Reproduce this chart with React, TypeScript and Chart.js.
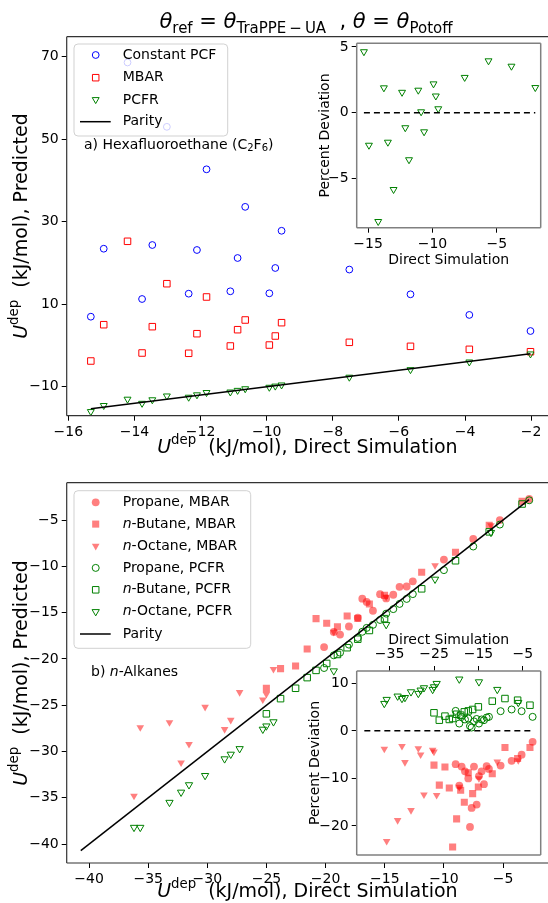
import React, { useEffect, useRef } from 'react';
import { Chart, registerables } from 'chart.js';
Chart.register(...registerables);

const W = 548;
const H = 903;
const FF = '"DejaVu Sans", "Noto Sans", sans-serif';

// ---------------- (a) Hexafluoroethane ----------------
const hfeDirect = [-15.32, -14.93, -14.21, -13.77, -13.46, -13.02, -12.36, -12.11, -11.82, -11.1, -10.88, -10.65, -9.92, -9.74, -9.55, -7.5, -5.65, -3.87, -2.02];
const hfeCPCF = [6.97, 23.45, 68.6, 11.26, 24.35, 53.0, 12.55, 23.14, 42.7, 13.13, 21.2, 33.6, 12.64, 18.78, 27.8, 18.4, 12.4, 7.4, 3.5];
const hfeMBAR = [-3.77, 5.03, 25.25, -1.83, 4.55, 14.97, -1.9, 2.85, 11.75, -0.13, 3.82, 6.17, 0.1, 2.29, 5.52, 0.76, -0.21, -0.94, -1.52];
const hfePCFR = [-16.03, -14.56, -13.03, -14.03, -13.17, -12.25, -12.55, -11.97, -11.41, -11.29, -10.89, -10.5, -10.14, -9.86, -9.58, -7.7, -5.87, -4.01, -2.06];
const hfePCFRDev = [4.64, -2.46, -8.25, 1.9, -2.23, -5.82, 1.56, -1.13, -3.56, 1.72, 0.08, -1.44, 2.2, 1.28, 0.31, 2.69, 3.95, 3.54, 1.92];
const hfeParity = [-15.32, -2.02];
const hfeXTicks = [-16, -14, -12, -10, -8, -6, -4, -2];
const hfeYTicks = [-10, 10, 30, 50, 70];
const hfeInsetXTicks = [-15, -10, -5];
const hfeInsetYTicks = [-5, 0, 5];

// ---------------- (b) n-Alkanes ----------------
const propDirect = [-2.79, -5.27, -7.52, -10.0, -12.63, -13.15, -13.75, -14.28, -14.88, -15.4, -16.0, -16.53, -16.9, -17.28, -18.03, -18.78, -19.31, -20.13];
const propMBAR = [-2.73, -5.01, -7.05, -9.27, -11.62, -12.18, -12.21, -13.07, -13.47, -13.01, -14.8, -13.85, -13.49, -15.55, -16.5, -17.37, -17.09, -18.72];
const propPCFR = [-2.87, -5.49, -7.86, -10.41, -13.0, -13.52, -14.06, -14.62, -15.11, -15.79, -16.32, -16.65, -17.07, -17.73, -18.46, -19.33, -19.61, -20.98];
const propMBARDev = [-2.3, -5.0, -6.3, -7.3, -8.0, -7.4, -11.2, -8.5, -9.5, -15.5, -7.5, -16.2, -20.2, -10.0, -8.5, -7.5, -11.5, -7.0];
const propPCFRDev = [2.95, 4.14, 4.5, 4.14, 2.95, 2.8, 2.25, 2.4, 1.54, 2.5, 2.0, 0.7, 1.0, 2.6, 2.4, 2.95, 1.54, 4.2];

const butDirect = [-25.01, -23.81, -22.54, -21.56, -20.81, -19.91, -19.0, -18.18, -17.28, -16.3, -15.02, -11.88, -9.02, -6.17, -3.39];
const butMBAR = [-23.18, -21.05, -20.76, -18.92, -15.65, -16.14, -16.54, -15.36, -15.64, -14.06, -13.14, -10.65, -8.49, -5.56, -2.99];
const butPCFR = [-25.93, -24.29, -23.17, -22.02, -21.24, -20.49, -19.52, -18.79, -17.87, -16.93, -15.65, -12.43, -9.4, -6.28, -3.27];
const butMBARDev = [-7.2, -11.4, -7.6, -12.0, -24.4, -18.5, -12.5, -15.0, -8.8, -13.2, -11.8, -9.0, -3.5, -5.8, -3.5];
const butPCFRDev = [3.8, 2.25, 3.1, 2.4, 2.6, 3.5, 3.3, 4.0, 4.2, 4.5, 5.05, 6.25, 6.8, 6.45, 5.4];

const octDirect = [-36.2, -35.67, -33.2, -32.22, -31.55, -30.19, -28.54, -28.02, -27.27, -25.31, -25.01, -24.41, -19.31, -14.88, -10.75, -6.02];
const octMBAR = [-34.8, -27.4, -26.85, -31.2, -29.2, -25.2, -27.6, -26.6, -23.6, -24.4, -23.8, -21.1, -17.1, -13.3, -9.9, -5.6];
const octPCFR = [-38.2, -38.2, -35.5, -34.4, -33.6, -32.6, -30.8, -30.3, -29.7, -27.6, -27.25, -26.8, -21.3, -16.3, -11.4, -6.35];
const octMBARDev = [-3.8, -23.2, -18.8, -3.2, -6.6, -16.7, -3.7, -5.0, -13.4, -4.0, -4.4, -13.5, -11.8, -10.0, -6.5, -6.2];
const octPCFRDev = [5.75, 6.6, 7.3, 6.8, 7.0, 8.2, 7.86, 8.56, 9.05, 8.7, 9.26, 9.96, 10.88, 10.3, 8.7, 5.96];

const alkParity = [-40.7, -2.8];
const alkDevLine = [-40.7, -2.4];
const alkXTicks = [-40, -35, -30, -25, -20, -15, -10, -5];
const alkYTicks = [-40, -35, -30, -25, -20, -15, -10, -5];
const alkInsetXTicks = [-35, -25, -15, -5];
const alkInsetYTicks = [-20, -10, 0, 10];

// ---------------- helpers ----------------
type Box = { l: number; t: number; r: number; b: number };
type Seg = { t: string; font: string; dy?: number };

const BLUE = '#0000ff';
const RED = '#ff0000';
const GREEN = '#008000';
const PINK = 'rgba(255,0,0,0.5)';
const NONE = 'rgba(0,0,0,0)';

function fmt(v: number) {
  return v < 0 ? '\u2212' + String(Math.abs(v)) : String(v);
}

function pts(xs: number[], ys: number[]) {
  return xs.map((x, i) => ({ x, y: ys[i] }));
}

function drawRich(ctx: CanvasRenderingContext2D, segs: Seg[], x: number, y: number, align: 'center' | 'left', rot = 0, base: CanvasTextBaseline = 'middle') {
  ctx.save();
  ctx.translate(x, y);
  ctx.rotate(rot);
  let w = 0;
  for (const s of segs) { ctx.font = s.font; w += ctx.measureText(s.t).width; }
  let cx = align === 'center' ? -w / 2 : 0;
  ctx.textBaseline = base;
  ctx.textAlign = 'left';
  ctx.fillStyle = '#000';
  for (const s of segs) {
    ctx.font = s.font;
    ctx.fillText(s.t, cx, s.dy || 0);
    cx += ctx.measureText(s.t).width;
  }
  ctx.restore();
}

function marker(ctx: CanvasRenderingContext2D, style: string, x: number, y: number, r: number, stroke: string, fill: string) {
  ctx.save();
  ctx.beginPath();
  if (style === 'circle') {
    ctx.arc(x, y, r, 0, Math.PI * 2);
  } else if (style === 'rect') {
    const s = r * Math.SQRT1_2;
    ctx.rect(x - s, y - s, 2 * s, 2 * s);
  } else {
    ctx.moveTo(x, y + r);
    ctx.lineTo(x - 0.866 * r, y - 0.5 * r);
    ctx.lineTo(x + 0.866 * r, y - 0.5 * r);
    ctx.closePath();
  }
  ctx.fillStyle = fill;
  ctx.fill();
  ctx.strokeStyle = stroke;
  ctx.lineWidth = 1;
  ctx.stroke();
  ctx.restore();
}

function legendFrame(ctx: CanvasRenderingContext2D, x0: number, y0: number, x1: number, y1: number) {
  ctx.save();
  ctx.beginPath();
  const rr = 4;
  ctx.moveTo(x0 + rr, y0);
  ctx.lineTo(x1 - rr, y0);
  ctx.quadraticCurveTo(x1, y0, x1, y0 + rr);
  ctx.lineTo(x1, y1 - rr);
  ctx.quadraticCurveTo(x1, y1, x1 - rr, y1);
  ctx.lineTo(x0 + rr, y1);
  ctx.quadraticCurveTo(x0, y1, x0, y1 - rr);
  ctx.lineTo(x0, y0 + rr);
  ctx.quadraticCurveTo(x0, y0, x0 + rr, y0);
  ctx.closePath();
  ctx.fillStyle = 'rgba(255,255,255,0.8)';
  ctx.fill();
  ctx.strokeStyle = 'rgba(204,204,204,0.9)';
  ctx.lineWidth = 1;
  ctx.stroke();
  ctx.restore();
}

function scatterSet(label: string, data: any[], style: string, r: number, stroke: string, fill: string, order: number, rotation = 0) {
  return {
    label, data, order,
    showLine: false,
    pointStyle: style,
    pointRadius: r,
    pointRotation: rotation,
    pointBorderColor: stroke,
    pointBackgroundColor: fill,
    pointBorderWidth: 1,
    borderColor: stroke,
    backgroundColor: fill,
  };
}

function lineSet(label: string, a: number[], b: number[], order: number, dash: number[] = []) {
  return {
    type: 'line' as const,
    label, order,
    data: [{ x: a[0], y: b[0] }, { x: a[1], y: b[1] }],
    showLine: true,
    borderColor: '#000',
    borderWidth: 1.5,
    borderDash: dash,
    pointRadius: 0,
    fill: false,
  };
}

type Cfg = {
  box: Box;
  x: [number, number];
  y: [number, number];
  xTicks: number[];
  yTicks: number[];
  xPos: 'top' | 'bottom';
  datasets: any[];
  white: boolean;
  frame: string;
  frameW: number;
  sides: string;
  draw?: (ctx: CanvasRenderingContext2D, chart: any) => void;
};

function makeConfig(c: Cfg): any {
  const grid = { display: true, drawOnChartArea: false, drawTicks: true, tickLength: 5, tickWidth: 1, tickColor: '#000', color: '#000' };
  const tickFont = { family: FF, size: 14 };
  return {
    type: 'scatter',
    data: { datasets: c.datasets },
    options: {
      animation: false,
      responsive: false,
      maintainAspectRatio: false,
      devicePixelRatio: 1,
      events: [],
      layout: {
        autoPadding: false,
        padding: {
          left: 0,
          right: W - c.box.r,
          top: c.xPos === 'bottom' ? c.box.t : 0,
          bottom: c.xPos === 'bottom' ? 0 : H - c.box.b,
        },
      },
      plugins: { legend: { display: false }, tooltip: { enabled: false }, title: { display: false } },
      scales: {
        x: {
          type: 'linear',
          position: c.xPos,
          min: c.x[0],
          max: c.x[1],
          grid,
          border: { display: false },
          ticks: { color: '#000', font: tickFont, padding: 3, maxRotation: 0, minRotation: 0, autoSkip: false, includeBounds: false, callback: (v: any) => fmt(Number(v)) },
          afterBuildTicks: (s: any) => { s.ticks = c.xTicks.map((v) => ({ value: v })); },
          afterFit: (s: any) => {
            s.height = c.xPos === 'bottom' ? H - c.box.b : c.box.t;
            s.paddingLeft = 0; s.paddingRight = 0; s.paddingTop = 0; s.paddingBottom = 0;
          },
        },
        y: {
          type: 'linear',
          position: 'left',
          min: c.y[0],
          max: c.y[1],
          grid,
          border: { display: false },
          ticks: { color: '#000', font: tickFont, padding: 3, autoSkip: false, includeBounds: false, callback: (v: any) => fmt(Number(v)) },
          afterBuildTicks: (s: any) => { s.ticks = c.yTicks.map((v) => ({ value: v })); },
          afterFit: (s: any) => {
            s.width = c.box.l;
            s.paddingLeft = 0; s.paddingRight = 0; s.paddingTop = 0; s.paddingBottom = 0;
          },
        },
      },
    },
    plugins: [
      {
        id: 'deco',
        beforeDraw(chart: any) {
          if (!c.white) return;
          const a = chart.chartArea;
          const ctx = chart.ctx;
          ctx.save();
          ctx.fillStyle = '#fff';
          ctx.fillRect(a.left, a.top, a.right - a.left, a.bottom - a.top);
          ctx.restore();
        },
        afterDraw(chart: any) {
          const a = chart.chartArea;
          const ctx = chart.ctx as CanvasRenderingContext2D;
          ctx.save();
          ctx.strokeStyle = c.frame;
          ctx.lineWidth = c.frameW;
          ctx.beginPath();
          if (c.sides.includes('t')) { ctx.moveTo(a.left, a.top); ctx.lineTo(a.right, a.top); }
          if (c.sides.includes('r')) { ctx.moveTo(a.right, a.top); ctx.lineTo(a.right, a.bottom); }
          if (c.sides.includes('b')) { ctx.moveTo(a.left, a.bottom); ctx.lineTo(a.right, a.bottom); }
          if (c.sides.includes('l')) { ctx.moveTo(a.left, a.top); ctx.lineTo(a.left, a.bottom); }
          ctx.stroke();
          ctx.restore();
          if (c.draw) c.draw(ctx, chart);
        },
      },
    ],
  };
}

const italic = (s: number) => `italic ${s}px ${FF}`;
const reg = (s: number) => `${s}px ${FF}`;

function uLabel(rest: string): Seg[] {
  return [
    { t: 'U', font: italic(19) },
    { t: 'dep', font: reg(13.3), dy: -7 },
    { t: '  ' + rest, font: reg(19) },
  ];
}

// ---------------- chart configs ----------------
function topMain(): any {
  return makeConfig({
    box: { l: 66.7, t: 36.7, r: 548, b: 415.7 },
    x: [-16.05, -1.49],
    y: [-17.03, 74.85],
    xTicks: hfeXTicks,
    yTicks: hfeYTicks,
    xPos: 'bottom',
    white: false,
    frame: '#333',
    frameW: 1.2,
    sides: 'tlb',
    datasets: [
      lineSet('Parity', hfeParity, hfeParity, 0),
      scatterSet('PCFR', pts(hfeDirect, hfePCFR), 'triangle', 4, GREEN, NONE, 1, 180),
      scatterSet('MBAR', pts(hfeDirect, hfeMBAR), 'rect', 4.6, RED, NONE, 2),
      scatterSet('Constant PCF', pts(hfeDirect, hfeCPCF), 'circle', 3.4, BLUE, NONE, 3),
    ],
    draw: (ctx) => {
      // title
      const big = italic(21);
      const sub = reg(15);
      const up = reg(21);
      drawRich(ctx, [
        { t: '\u03b8', font: big },
        { t: 'ref', font: sub, dy: 5 },
        { t: ' = ', font: up },
        { t: '\u03b8', font: big },
        { t: 'TraPPE\u2009\u2212\u2009UA', font: sub, dy: 5 },
        { t: '  , ', font: up },
        { t: '\u03b8', font: big },
        { t: ' = ', font: up },
        { t: '\u03b8', font: big },
        { t: 'Potoff', font: sub, dy: 5 },
      ], 306, 27.5, 'center', 0, 'alphabetic');
      // axis labels
      drawRich(ctx, uLabel('(kJ/mol), Direct Simulation'), 307.4, 448, 'center');
      drawRich(ctx, uLabel('(kJ/mol), Predicted'), 22, 226, 'center', -Math.PI / 2);
      // legend
      legendFrame(ctx, 74, 44, 227.7, 136);
      marker(ctx, 'circle', 95.7, 55, 3.4, BLUE, NONE);
      marker(ctx, 'rect', 95.7, 77.7, 4.6, RED, NONE);
      marker(ctx, 'tri', 95.7, 99.6, 4, GREEN, NONE);
      ctx.save();
      ctx.strokeStyle = '#000';
      ctx.lineWidth = 1.5;
      ctx.beginPath(); ctx.moveTo(80, 121.7); ctx.lineTo(110.7, 121.7); ctx.stroke();
      ctx.restore();
      const lf = reg(14);
      drawRich(ctx, [{ t: 'Constant PCF', font: lf }], 122.7, 55, 'left');
      drawRich(ctx, [{ t: 'MBAR', font: lf }], 122.7, 77.7, 'left');
      drawRich(ctx, [{ t: 'PCFR', font: lf }], 122.7, 100, 'left');
      drawRich(ctx, [{ t: 'Parity', font: lf }], 122.7, 121.7, 'left');
      // annotation
      drawRich(ctx, [
        { t: 'a) Hexafluoroethane (C', font: lf },
        { t: '2', font: reg(10), dy: 3 },
        { t: 'F', font: lf },
        { t: '6', font: reg(10), dy: 3 },
        { t: ')', font: lf },
      ], 84, 145, 'left');
    },
  });
}

function topInset(): any {
  return makeConfig({
    box: { l: 356.7, t: 43.3, r: 540.7, b: 227.7 },
    x: [-15.88, -1.6],
    y: [-8.72, 5.28],
    xTicks: hfeInsetXTicks,
    yTicks: hfeInsetYTicks,
    xPos: 'bottom',
    white: true,
    frame: '#808080',
    frameW: 1.5,
    sides: 'tlbr',
    datasets: [
      lineSet('zero', [hfeParity[0], hfeParity[1]], [0, 0], 0, [6, 4]),
      scatterSet('PCFR', pts(hfeDirect, hfePCFRDev), 'triangle', 4, GREEN, NONE, 1, 180),
    ],
    draw: (ctx) => {
      drawRich(ctx, [{ t: 'Direct Simulation', font: reg(14) }], 448.7, 260, 'center');
      drawRich(ctx, [{ t: 'Percent Deviation', font: reg(14) }], 325, 135.5, 'center', -Math.PI / 2);
    },
  });
}

function bottomMain(): any {
  return makeConfig({
    box: { l: 66.7, t: 482.7, r: 548, b: 863 },
    x: [-41.89, -1.2],
    y: [-42.04, -0.97],
    xTicks: alkXTicks,
    yTicks: alkYTicks,
    xPos: 'bottom',
    white: false,
    frame: '#333',
    frameW: 1.2,
    sides: 'tlb',
    datasets: [
      lineSet('Parity', alkParity, alkParity, 0),
      scatterSet('n-Octane, PCFR', pts(octDirect, octPCFR), 'triangle', 4.2, GREEN, NONE, 1, 180),
      scatterSet('n-Butane, PCFR', pts(butDirect, butPCFR), 'rect', 4.6, GREEN, NONE, 2),
      scatterSet('Propane, PCFR', pts(propDirect, propPCFR), 'circle', 3.5, GREEN, NONE, 3),
      scatterSet('n-Octane, MBAR', pts(octDirect, octMBAR), 'triangle', 4.4, NONE, PINK, 4, 180),
      scatterSet('n-Butane, MBAR', pts(butDirect, butMBAR), 'rect', 5, NONE, PINK, 5),
      scatterSet('Propane, MBAR', pts(propDirect, propMBAR), 'circle', 3.9, NONE, PINK, 6),
    ],
    draw: (ctx) => {
      drawRich(ctx, uLabel('(kJ/mol), Direct Simulation'), 307.4, 892, 'center');
      drawRich(ctx, uLabel('(kJ/mol), Predicted'), 22, 673, 'center', -Math.PI / 2);
      legendFrame(ctx, 74, 490.7, 250.7, 648.3);
      const ys = [502.3, 524.1, 546, 567.9, 589.8, 611.7, 634];
      marker(ctx, 'circle', 95.7, ys[0], 3.9, NONE, PINK);
      marker(ctx, 'rect', 95.7, ys[1], 5, NONE, PINK);
      marker(ctx, 'tri', 95.7, ys[2], 4.4, NONE, PINK);
      marker(ctx, 'circle', 95.7, ys[3], 3.5, GREEN, NONE);
      marker(ctx, 'rect', 95.7, ys[4], 4.6, GREEN, NONE);
      marker(ctx, 'tri', 95.7, ys[5], 4.2, GREEN, NONE);
      ctx.save();
      ctx.strokeStyle = '#000';
      ctx.lineWidth = 1.5;
      ctx.beginPath(); ctx.moveTo(80, ys[6]); ctx.lineTo(110.7, ys[6]); ctx.stroke();
      ctx.restore();
      const lf = reg(14);
      const li = italic(14);
      drawRich(ctx, [{ t: 'Propane, MBAR', font: lf }], 122.7, ys[0], 'left');
      drawRich(ctx, [{ t: 'n', font: li }, { t: '-Butane, MBAR', font: lf }], 122.7, ys[1], 'left');
      drawRich(ctx, [{ t: 'n', font: li }, { t: '-Octane, MBAR', font: lf }], 122.7, ys[2], 'left');
      drawRich(ctx, [{ t: 'Propane, PCFR', font: lf }], 122.7, ys[3], 'left');
      drawRich(ctx, [{ t: 'n', font: li }, { t: '-Butane, PCFR', font: lf }], 122.7, ys[4], 'left');
      drawRich(ctx, [{ t: 'n', font: li }, { t: '-Octane, PCFR', font: lf }], 122.7, ys[5], 'left');
      drawRich(ctx, [{ t: 'Parity', font: lf }], 122.7, ys[6], 'left');
      drawRich(ctx, [{ t: 'b) ', font: lf }, { t: 'n', font: li }, { t: '-Alkanes', font: lf }], 91, 672, 'left');
    },
  });
}

function bottomInset(): any {
  return makeConfig({
    box: { l: 356.7, t: 671, r: 540.7, b: 855 },
    x: [-42.42, -0.97],
    y: [-26.1, 12.59],
    xTicks: alkInsetXTicks,
    yTicks: alkInsetYTicks,
    xPos: 'top',
    white: true,
    frame: '#808080',
    frameW: 1.5,
    sides: 'tlbr',
    datasets: [
      lineSet('zero', alkDevLine, [0, 0], 0, [6, 4]),
      scatterSet('n-Octane, PCFR', pts(octDirect, octPCFRDev), 'triangle', 4.2, GREEN, NONE, 1, 180),
      scatterSet('n-Butane, PCFR', pts(butDirect, butPCFRDev), 'rect', 4.6, GREEN, NONE, 2),
      scatterSet('Propane, PCFR', pts(propDirect, propPCFRDev), 'circle', 3.5, GREEN, NONE, 3),
      scatterSet('n-Octane, MBAR', pts(octDirect, octMBARDev), 'triangle', 4.4, NONE, PINK, 4, 180),
      scatterSet('n-Butane, MBAR', pts(butDirect, butMBARDev), 'rect', 5, NONE, PINK, 5),
      scatterSet('Propane, MBAR', pts(propDirect, propMBARDev), 'circle', 3.9, NONE, PINK, 6),
    ],
    draw: (ctx) => {
      drawRich(ctx, [{ t: 'Direct Simulation', font: reg(14) }], 448.7, 640, 'center');
      drawRich(ctx, [{ t: 'Percent Deviation', font: reg(14) }], 315, 763, 'center', -Math.PI / 2);
    },
  });
}

export default function App() {
  const r1 = useRef<HTMLCanvasElement>(null);
  const r2 = useRef<HTMLCanvasElement>(null);
  const r3 = useRef<HTMLCanvasElement>(null);
  const r4 = useRef<HTMLCanvasElement>(null);

  useEffect(() => {
    const charts: Chart[] = [];
    const list: [React.RefObject<HTMLCanvasElement>, () => any][] = [
      [r1, topMain], [r3, bottomMain], [r2, topInset], [r4, bottomInset],
    ];
    for (const [ref, fn] of list) {
      if (ref.current) charts.push(new Chart(ref.current, fn()));
    }
    return () => { charts.forEach((c) => c.destroy()); };
  }, []);

  const cs: React.CSSProperties = { position: 'absolute', left: 0, top: 0, width: W, height: H };
  return (
    <div style={{ position: 'absolute', left: 0, top: 0, width: W, height: H, background: '#fff', overflow: 'hidden' }}>
      <canvas ref={r1} width={W} height={H} style={cs} />
      <canvas ref={r3} width={W} height={H} style={cs} />
      <canvas ref={r2} width={W} height={H} style={cs} />
      <canvas ref={r4} width={W} height={H} style={cs} />
    </div>
  );
}
